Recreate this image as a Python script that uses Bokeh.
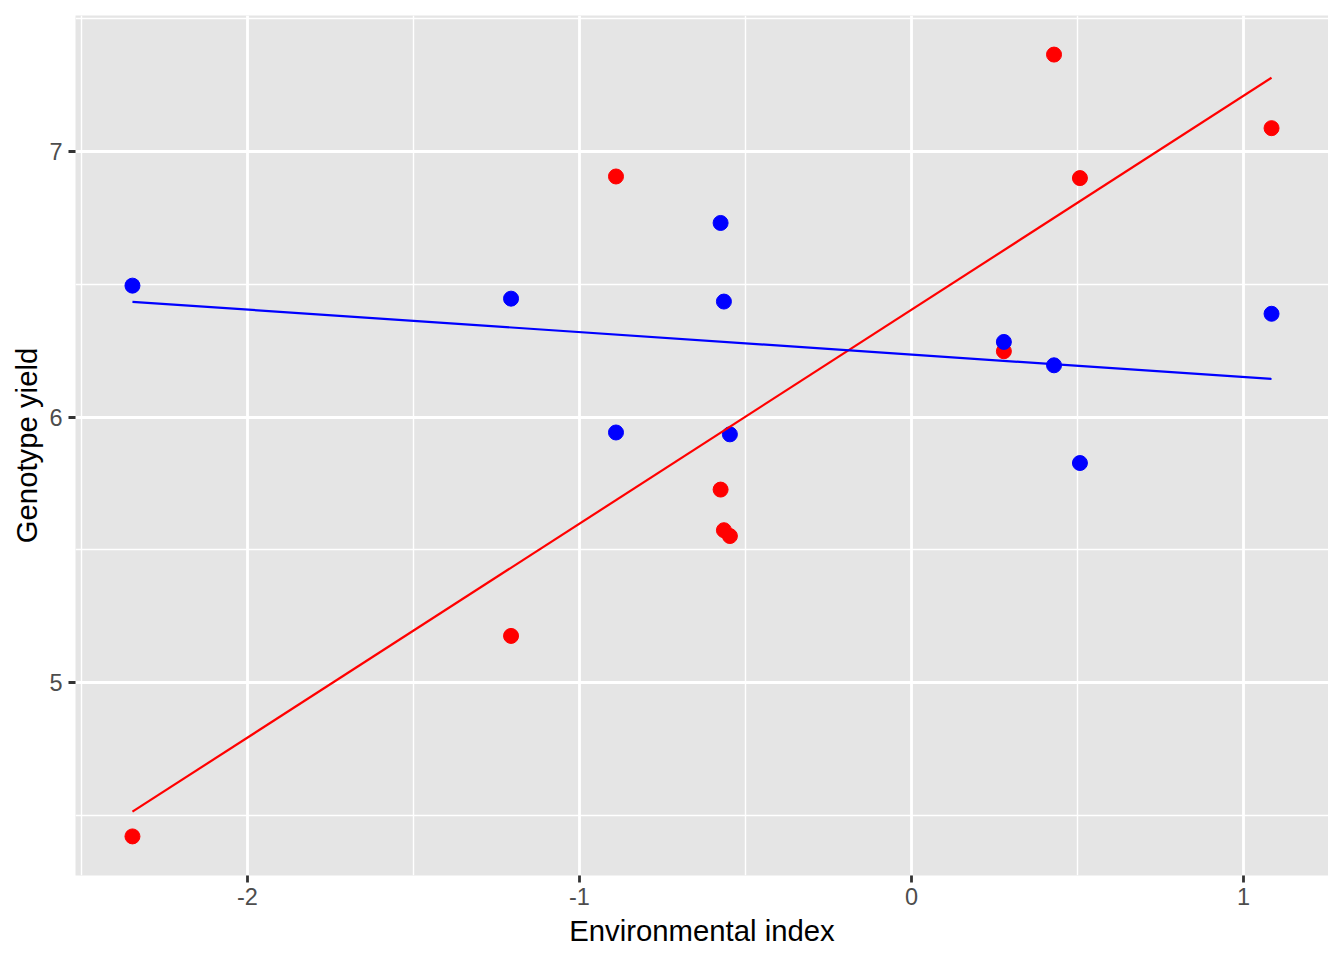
import numpy as np
from bokeh.plotting import figure
from bokeh.models import Range1d, FixedTicker
from bokeh.embed import file_html
from bokeh.resources import INLINE

# ---- data ----
env_index = [-2.346, -1.206, -0.890, -0.575, -0.565, -0.547, 0.278, 0.429, 0.507, 1.084]
yield_red = [4.421, 5.176, 6.906, 5.727, 5.574, 5.552, 6.248, 7.365, 6.900, 7.088]
yield_blue = [6.495, 6.446, 5.942, 6.731, 6.435, 5.935, 6.283, 6.195, 5.827, 6.389]
x_ticks = [-2, -1, 0, 1]
y_ticks = [5, 6, 7]
x_title = "Environmental index"
y_title = "Genotype yield"

FONT = "Liberation Sans"

x = np.array(env_index)
yr = np.array(yield_red)
yb = np.array(yield_blue)

def expand(lo, hi, f=0.05):
    s = hi - lo
    return lo - f * s, hi + f * s

x0, x1 = expand(x.min(), x.max())
yall = np.concatenate([yr, yb])
y0, y1 = expand(yall.min(), yall.max())

p = figure(
    frame_width=1253, frame_height=860,
    min_border_left=75, min_border_right=0, min_border_top=15, min_border_bottom=69,
    x_range=Range1d(x0, x1), y_range=Range1d(y0, y1),
    output_backend="svg", toolbar_location=None,
    background_fill_color="#E5E5E5", border_fill_color="white",
)
p.outline_line_color = None

def minors(t):
    step = t[1] - t[0]
    return [t[0] - step / 2] + [v + step / 2 for v in t]

p.xaxis.ticker = FixedTicker(ticks=x_ticks, minor_ticks=minors(x_ticks))
p.yaxis.ticker = FixedTicker(ticks=y_ticks, minor_ticks=minors(y_ticks))
p.xaxis.major_label_overrides = {t: str(t) for t in x_ticks}
p.yaxis.major_label_overrides = {t: str(t) for t in y_ticks}

for g in (p.xgrid, p.ygrid):
    g.grid_line_color = "white"
    g.grid_line_width = 2.8
    g.minor_grid_line_color = "white"
    g.minor_grid_line_width = 1.4

for ax in (p.xaxis, p.yaxis):
    ax.axis_line_color = None
    ax.major_tick_line_color = "#333333"
    ax.major_tick_line_width = 2.8
    ax.major_tick_out = 7
    ax.major_tick_in = 0
    ax.minor_tick_line_color = None
    ax.major_label_text_font = FONT
    ax.major_label_text_font_size = "23.5px"
    ax.major_label_text_color = "#4D4D4D"
    ax.axis_label_text_font = FONT
    ax.axis_label_text_font_size = "29.3px"
    ax.axis_label_text_font_style = "normal"
    ax.axis_label_text_color = "black"

p.xaxis.axis_label = x_title
p.yaxis.axis_label = y_title
p.xaxis.major_label_standoff = 5
p.yaxis.major_label_standoff = 6
p.xaxis.axis_label_standoff = 6
p.yaxis.axis_label_standoff = 3

# points
p.scatter(x, yr, size=15, fill_color="red", line_color="red")
p.scatter(x, yb, size=15, fill_color="blue", line_color="blue")

# least-squares lines
xs = np.array([x.min(), x.max()])
for yy, col in ((yr, "red"), (yb, "blue")):
    b, a = np.polyfit(x, yy, 1)
    p.line(xs, a + b * xs, line_color=col, line_width=2.2)

open("out.html", "w").write(file_html(p, INLINE))
